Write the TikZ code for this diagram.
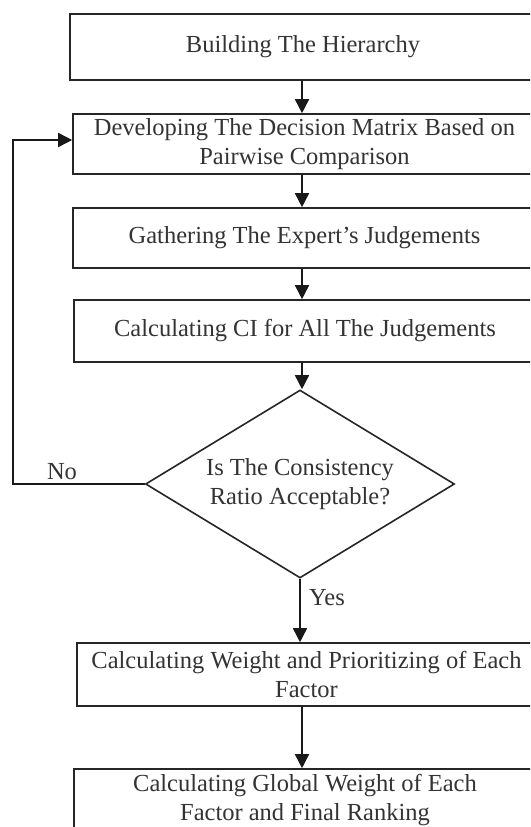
\documentclass[tikz,border=0pt]{standalone}
\usepackage{fontspec}
\setmainfont{Liberation Serif}
\usetikzlibrary{shapes.geometric,arrows.meta}
\begin{document}
\begin{tikzpicture}[x=1pt,y=-1pt,
  every node/.style={font=\fontsize{24.5}{29}\selectfont, text=black!80},
  stepbox/.style={draw=black!85, line width=1.6pt, rectangle, inner sep=0pt, align=center},
  decide/.style={draw=black!85, line width=1.6pt, diamond, aspect=1.65, inner sep=0pt, minimum width=309pt, minimum height=188pt, align=center},
  conn/.style={draw=black!90, line width=1.6pt},
  arr/.style={conn, -{Triangle[length=14pt,width=14pt]}},
  lbl/.style={inner sep=0pt}]
\clip (0,0) rectangle (530,827);
\fill[white] (0,0) rectangle (530,827);
\node[stepbox, minimum width=466pt, minimum height=66pt] (b1) at (303,47) {Building The Hierarchy};
\node[stepbox, minimum width=463pt, minimum height=60pt] (b2) at (304.5,144) {Developing The Decision Matrix Based on\\Pairwise Comparison};
\node[stepbox, minimum width=463pt, minimum height=60pt] (b3) at (304.5,238) {Gathering The Expert's Judgements};
\node[stepbox, minimum width=462pt, minimum height=62pt] (b4) at (305,331) {Calculating CI for All The Judgements};
\node[decide] (d) at (300,484) {Is The Consistency\\Ratio Acceptable?};
\node[stepbox, minimum width=459pt, minimum height=63pt] (b5) at (306.5,674.5) {Calculating Weight and Prioritizing of Each\\Factor};
\node[stepbox, minimum width=462pt, minimum height=63pt] (b6) at (305,800.5) {Calculating Global Weight of Each\\Factor and Final Ranking};
\coordinate (cx) at (302,0);
\coordinate (lp) at (13,140);
\draw[arr] (b1.south -| cx) -- (b2.north -| cx);
\draw[arr] (b2.south -| cx) -- (b3.north -| cx);
\draw[arr] (b3.south -| cx) -- (b4.north -| cx);
\draw[arr] (b4.south -| cx) -- (d.north -| cx);
\draw[arr] (d.south) -- (b5.north -| d.south);
\draw[arr] (b5.south -| cx) -- (b6.north -| cx);
\draw[arr, line join=miter] (d.west) -| (lp) -- (lp -| b2.west);
\node[lbl] (no) at (62,472) {No};
\node[lbl] (yes) at (327,598) {Yes};
\end{tikzpicture}
\end{document}
